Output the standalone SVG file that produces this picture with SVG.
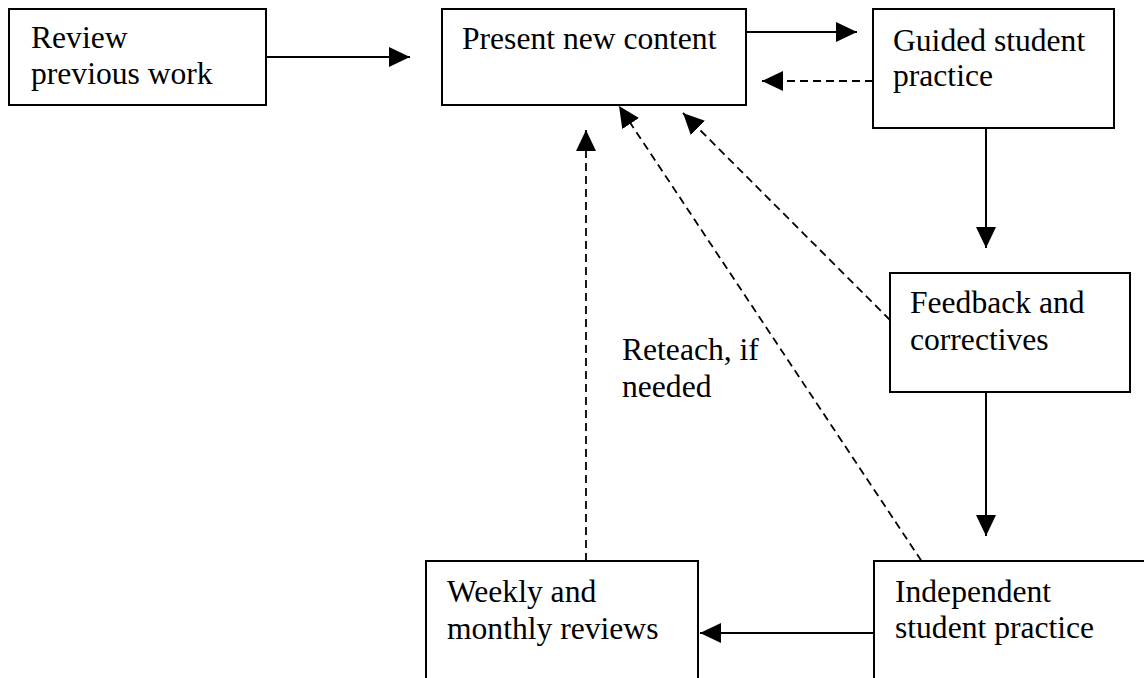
<svg xmlns="http://www.w3.org/2000/svg" width="1144" height="678" viewBox="0 0 1144 678">
<style>
.box{fill:#fff;stroke:#000;stroke-width:2}
.t{font-family:"Liberation Serif","Times New Roman",serif;font-size:31.6px;fill:#000}
.solid{stroke:#000;stroke-width:2;fill:none}
.dash{stroke:#000;stroke-width:1.8;fill:none;stroke-dasharray:8 5}
</style>
<defs>
<marker id="ah" markerUnits="userSpaceOnUse" markerWidth="22" markerHeight="20" refX="21" refY="10" orient="auto" viewBox="0 0 22 20">
<path d="M0,0 L21,10 L0,20 z" fill="#000"/>
</marker>
</defs>
<rect width="1144" height="678" fill="#fff"/>
<g id="connectors">
<line class="solid" x1="266" y1="57" x2="410" y2="57" marker-end="url(#ah)"/>
<line class="solid" x1="746" y1="32" x2="857" y2="32" marker-end="url(#ah)"/>
<line class="dash" x1="873" y1="81" x2="762" y2="81" marker-end="url(#ah)"/>
<line class="solid" x1="986" y1="128" x2="986" y2="248" marker-end="url(#ah)"/>
<line class="solid" x1="986" y1="392" x2="986" y2="536" marker-end="url(#ah)"/>
<line class="solid" x1="874" y1="633" x2="700" y2="633" marker-end="url(#ah)"/>
<line class="dash" x1="586" y1="561" x2="586" y2="130" marker-end="url(#ah)"/>
<line class="dash" x1="921.5" y1="561" x2="619" y2="106" marker-end="url(#ah)"/>
<line class="dash" x1="890" y1="320" x2="683" y2="113" marker-end="url(#ah)"/>
</g>
<g id="review">
<rect class="box" x="9" y="9" width="257" height="96"/>
<text class="t" x="31" y="48">Review</text>
<text class="t" x="31" y="84">previous work</text>
</g>
<g id="present">
<rect class="box" x="442" y="9" width="304" height="96"/>
<text class="t" x="462" y="49">Present new content</text>
</g>
<g id="guided">
<rect class="box" x="873" y="9" width="241" height="119"/>
<text class="t" x="893" y="51">Guided student</text>
<text class="t" x="893" y="86">practice</text>
</g>
<g id="feedback">
<rect class="box" x="890" y="273" width="240" height="119"/>
<text class="t" x="910" y="313">Feedback and</text>
<text class="t" x="910" y="350">correctives</text>
</g>
<g id="weekly">
<rect class="box" x="426" y="561" width="272" height="130"/>
<text class="t" x="447" y="602">Weekly and</text>
<text class="t" x="447" y="639">monthly reviews</text>
</g>
<g id="independent">
<rect class="box" x="874" y="561" width="280" height="130"/>
<text class="t" x="895" y="602">Independent</text>
<text class="t" x="895" y="638">student practice</text>
</g>
<g id="label">
<text class="t" x="622" y="360">Reteach, if</text>
<text class="t" x="622" y="397">needed</text>
</g>
</svg>
